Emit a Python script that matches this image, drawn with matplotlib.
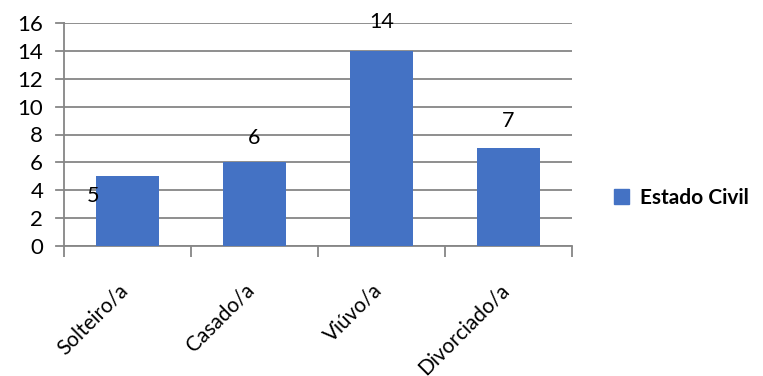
import numpy as np
import matplotlib.pyplot as plt
from matplotlib.patches import Patch

plt.rcParams['font.family'] = ['Lato', 'DejaVu Sans']

categorias = ['Solteiro/a', 'Casado/a', 'Viúvo/a', 'Divorciado/a']
valores = [5, 6, 14, 7]
serie = 'Estado Civil'

# label offsets (x in category units, y in data units) as Excel placed them
desloc = [(-0.27, -1.4), (0.0, 1.75), (0.0, 2.1), (0.0, 2.0)]

cor = '#4472C4'
cinza = '#868686'

fig = plt.figure(figsize=(7.63, 3.76), dpi=100)
ax = fig.add_axes([64 / 763, 1 - 246 / 376, 508 / 763, 223 / 376])

x = np.arange(len(categorias))
ax.bar(x, valores, width=0.49, color=cor, zorder=3)

for xi, v, (dx, dy) in zip(x, valores, desloc):
    ax.text(xi + dx, v + dy, str(v), ha='center', va='center', fontsize=15.5, zorder=4)

ax.set_xlim(-0.5, len(categorias) - 0.5)
ax.set_ylim(0, 16)
ax.set_yticks(range(0, 17, 2))
ax.tick_params(axis='y', length=0, labelsize=16, pad=15)
ax.yaxis.grid(True, color=cinza, linewidth=1.3)
ax.set_axisbelow(True)

# gridlines poke out left of the axis like tick marks
for yv in range(0, 17, 2):
    ax.plot([-0.56, -0.5], [yv, yv], color=cinza, lw=1.3, clip_on=False)

# category boundary ticks below the axis
ax.set_xticks(np.arange(-0.5, len(categorias)))
ax.set_xticklabels([])
ax.tick_params(axis='x', length=8, color=cinza, width=1.3)

for xi, nome in zip(x, categorias):
    ax.annotate(nome, xy=(xi, 0), xycoords='data', xytext=(-3, -41),
                textcoords='offset pixels', rotation=45, ha='right', va='center',
                rotation_mode='anchor', fontsize=15)

for s in ['top', 'right']:
    ax.spines[s].set_visible(False)
for s in ['left', 'bottom']:
    ax.spines[s].set_color(cinza)
    ax.spines[s].set_linewidth(1.3)

fig.legend(handles=[Patch(color=cor)], labels=[serie], loc='center left',
           bbox_to_anchor=(599 / 763, 1 - 198 / 376), frameon=False,
           handlelength=0.75, handleheight=0.75, handletextpad=0.5,
           borderpad=0.2, prop={'weight': 'bold', 'size': 15})

fig.savefig('out.png', dpi=100)
